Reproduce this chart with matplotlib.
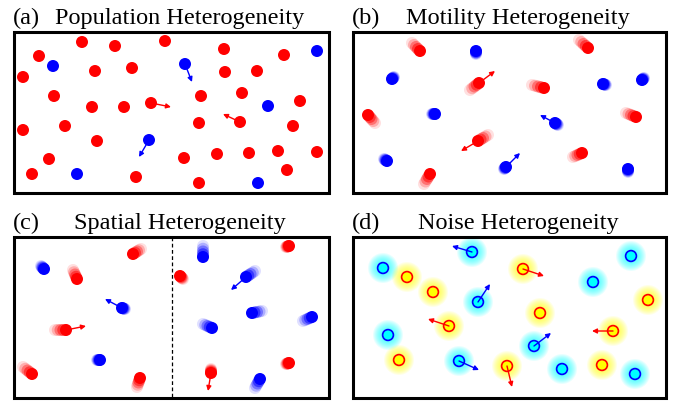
import matplotlib
matplotlib.use("Agg")
import matplotlib.pyplot as plt
from matplotlib.patches import Circle, Rectangle, FancyArrowPatch

# ---------------- data (pixel coordinates of the schematic) ----------------
panel_labels = ["(a)", "(b)", "(c)", "(d)"]
panel_titles = ["Population Heterogeneity", "Motility Heterogeneity",
                "Spatial Heterogeneity", "Noise Heterogeneity"]
# panel boxes: left, top, right, bottom
panel_boxes = [(14, 32, 329, 193), (353, 32, 666, 193),
               (14, 237, 329, 398), (353, 237, 666, 398)]

# panel (a): positions
a_red = [(82, 42), (115, 46), (165, 41), (224, 49), (284, 55), (39, 56),
         (95, 71), (132, 68), (225, 72), (257, 71), (23, 77), (54, 96),
         (201, 96), (242, 93), (300, 101), (92, 107), (124, 107), (151, 103),
         (199, 123), (240, 122), (293, 126), (23, 130), (65, 126), (97, 141),
         (49, 159), (184, 158), (217, 154), (249, 153), (278, 151), (317, 152),
         (32, 174), (136, 177), (199, 183), (287, 170)]
a_blue = [(317, 51), (53, 66), (185, 64), (268, 106), (149, 140), (77, 174),
          (258, 183)]
# arrows (start, end)
a_arrows = [((151, 103), (171, 107), "red"), ((240, 122), (223, 114), "red"),
            ((185, 64), (192, 82), "blue"), ((149, 140), (139, 157), "blue")]

# panel (b): position and trail offset (dx, dy)
b_red = [(420, 51, -8, -8), (588, 48, -9, -8), (479, 83, -9, 7),
         (544, 88, -12, -3), (368, 115, 7, 8), (636, 117, -10, -4),
         (478, 141, 10, -6), (582, 153, -9, 4), (430, 174, -6, 10)]
b_blue = [(476, 51, 0, 3), (392, 79, 2, -2), (435, 114, -3, 0),
          (555, 123, 3, 2), (603, 84, 3, 1), (642, 80, 2, -2),
          (387, 161, -3, -2), (506, 167, -2, 2), (628, 169, 0, 3)]
b_arrows = [((479, 83), (495, 71), "red"), ((478, 141), (461, 151), "red"),
            ((555, 123), (540, 115), "blue"), ((506, 167), (520, 153), "blue")]

# panel (c)
c_divider_x = 172
c_red = [(77, 279, -4, -9), (133, 254, 8, -5), (66, 330, -11, 0),
         (32, 374, -9, -7), (140, 378, -3, 9), (289, 246, -3, 1),
         (180, 276, 3, 3), (289, 363, -3, 1), (211, 373, 0, -4)]
c_blue = [(44, 269, -3, -3), (122, 308, 3, 1), (100, 360, -3, 0),
          (203, 257, 0, -11), (246, 277, 9, -6), (252, 313, 10, -2),
          (312, 317, -9, 4), (212, 328, -9, -4), (260, 379, -5, 9)]
c_arrows = [((122, 308), (105, 299), "blue"), ((66, 330), (86, 326), "red"),
            ((246, 277), (231, 290), "blue"), ((211, 373), (208, 391), "red")]

# panel (d)
d_cyan = [(472, 252), (383, 268), (631, 256), (593, 282), (478, 302),
          (388, 335), (534, 346), (459, 361), (562, 369), (635, 374)]
d_yellow = [(407, 277), (433, 292), (523, 269), (648, 300), (540, 313),
            (449, 326), (613, 331), (399, 360), (507, 366), (602, 365)]
d_arrows = [((472, 252), (452, 246), "blue"), ((478, 302), (490, 284), "blue"),
            ((534, 346), (551, 333), "blue"), ((459, 361), (479, 370), "blue"),
            ((523, 269), (544, 276), "red"), ((449, 326), (428, 319), "red"),
            ((613, 331), (592, 331), "red"), ((507, 366), (512, 387), "red")]

# ---------------- drawing ----------------
RED = "#ff0000"
BLUE = "#0000ff"
plt.rcParams["font.family"] = ["Liberation Serif", "DejaVu Serif"]

fig = plt.figure(figsize=(6.76, 4.01), dpi=100)
ax = fig.add_axes([0, 0, 1, 1])
ax.set_xlim(0, 676)
ax.set_ylim(401, 0)
ax.axis("off")

R = 6.0


def dot(x, y, color, r=R, alpha=1.0, z=3):
    ax.add_patch(Circle((x, y), r, facecolor=color, edgecolor="none",
                        alpha=alpha, zorder=z))


def trail_dot(x, y, dx, dy, color, r=R):
    steps = [(1.0, 0.12), (0.75, 0.22), (0.5, 0.35), (0.25, 0.5)]
    for t, al in steps:
        dot(x + t * dx, y + t * dy, color, r, al, z=2)
    dot(x, y, color, r, 1.0, z=3)


def arrow(p0, p1, color):
    ax.add_patch(FancyArrowPatch(p0, p1, arrowstyle="-|>", mutation_scale=7,
                                 color=color, lw=1.0, shrinkA=0, shrinkB=0,
                                 zorder=4))


# frames and titles
for (l, t, r, b), lab, title in zip(panel_boxes, panel_labels, panel_titles):
    ax.add_patch(Rectangle((l, t), r - l, b - t, fill=False, edgecolor="black",
                           lw=2.2, zorder=5))
    ax.text(l - 1, t - 8, lab, fontsize=17.5, ha="left", va="baseline")
    ax.text((l + r) / 2 + 8.5, t - 8, title, fontsize=17.5, ha="center",
            va="baseline")

# panel (a)
for x, y in a_red:
    dot(x, y, RED)
for x, y in a_blue:
    dot(x, y, BLUE)
for p0, p1, c in a_arrows:
    arrow(p0, p1, RED if c == "red" else BLUE)

# panel (b)
for x, y, dx, dy in b_red:
    trail_dot(x, y, dx, dy, RED)
for x, y, dx, dy in b_blue:
    trail_dot(x, y, dx, dy, BLUE)
for p0, p1, c in b_arrows:
    arrow(p0, p1, RED if c == "red" else BLUE)

# panel (c)
l, t, r, b = panel_boxes[2]
ax.plot([c_divider_x, c_divider_x], [t, b], color="black", lw=0.9,
        ls=(0, (3, 2)), zorder=1)
for x, y, dx, dy in c_red:
    trail_dot(x, y, dx, dy, RED)
for x, y, dx, dy in c_blue:
    trail_dot(x, y, dx, dy, BLUE)
for p0, p1, c in c_arrows:
    arrow(p0, p1, RED if c == "red" else BLUE)


# panel (d)
def glow_dot(x, y, face, edge, glow):
    radii = [15, 14, 13, 12, 11, 10, 9, 8, 7, 6]
    for rr in radii:
        ax.add_patch(Circle((x, y), rr, facecolor=glow, edgecolor="none",
                            alpha=0.09, zorder=2))
    ax.add_patch(Circle((x, y), 5.4, facecolor=face, edgecolor=edge,
                        lw=1.2, zorder=3))


for x, y in d_cyan:
    glow_dot(x, y, "#00ffff", BLUE, "#00ffff")
for x, y in d_yellow:
    glow_dot(x, y, "#ffff00", RED, "#ffff00")
for p0, p1, c in d_arrows:
    arrow(p0, p1, RED if c == "red" else BLUE)

fig.savefig("out.png", dpi=100)
